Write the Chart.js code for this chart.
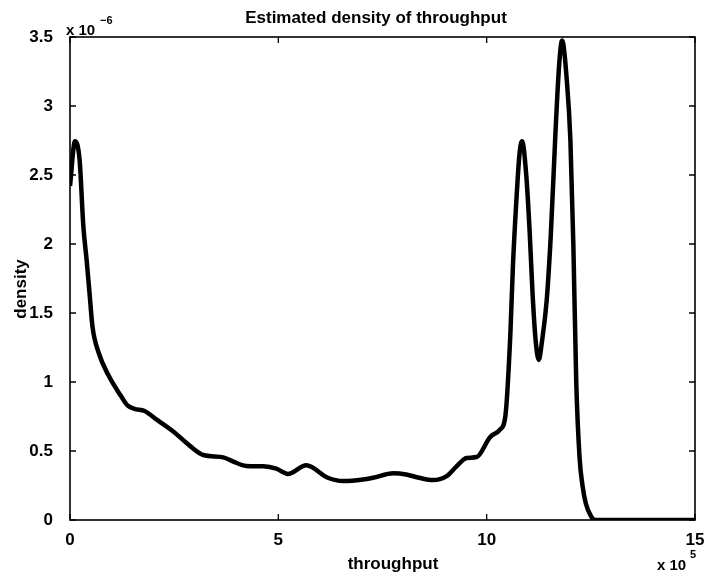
<!DOCTYPE html>
<html>
<head>
<meta charset="utf-8">
<script src="https://cdn.jsdelivr.net/npm/chart.js@4.4.1/dist/chart.umd.min.js"></script>
<style>
  html, body { margin: 0; padding: 0; background: #fff; }
</style>
</head>
<body>
<canvas id="densityChart" width="714" height="579"></canvas>
<script>
// throughput, in units of 10^5
const throughputX = [
  0, 0.12, 0.23, 0.32, 0.40, 0.47, 0.54, 0.69, 0.92, 1.22, 1.38, 1.55, 1.79, 2.09,
  2.50, 2.87, 3.20, 3.68, 3.92, 4.23, 4.64, 4.95, 5.23, 5.67, 6.19, 6.55, 7.03,
  7.27, 7.76, 8.07, 8.38, 8.71, 9.03, 9.27, 9.52, 9.76, 10.08, 10.32, 10.45,
  10.57, 10.63, 10.71, 10.79, 10.85, 10.95, 11.03, 11.10, 11.17, 11.25, 11.33,
  11.44, 11.54, 11.65, 11.74, 11.81, 11.92, 12.01, 12.08, 12.15, 12.23, 12.30,
  12.38, 12.50, 12.60, 13.50, 15
];
// estimated density, in units of 10^-6
const densityY = [
  2.42, 2.745, 2.61, 2.13, 1.88, 1.64, 1.40, 1.21, 1.05, 0.90, 0.83, 0.805, 0.79, 0.725,
  0.636, 0.539, 0.471, 0.454, 0.423, 0.392, 0.389, 0.372, 0.334, 0.397, 0.306, 0.282, 0.293,
  0.306, 0.339, 0.330, 0.306, 0.289, 0.316, 0.387, 0.450, 0.456, 0.600, 0.655, 0.756,
  1.357, 1.84, 2.30, 2.66, 2.745, 2.50, 2.10, 1.65, 1.32, 1.16, 1.30,
  1.59, 2.07, 2.80, 3.30, 3.475, 3.20, 2.75, 2.00, 1.00, 0.45, 0.25,
  0.12, 0.03, 0, 0, 0
];

const xTicks = [0, 5, 10, 15];
const yTicks = [0, 0.5, 1, 1.5, 2, 2.5, 3, 3.5];
const xTickLabels = ['0', '5', '10', '15'];
const yTickLabels = ['0', '0.5', '1', '1.5', '2', '2.5', '3', '3.5'];

const titleText = 'Estimated density of throughput';
const xLabel = 'throughput';
const yLabel = 'density';

const FONT = '"Liberation Sans", Arial, Helvetica, sans-serif';

// matlab style box, inward ticks, exponents and labels
const matlabFrame = {
  id: 'matlabFrame',
  afterDraw(chart) {
    const { ctx, chartArea: a, scales } = chart;
    ctx.save();
    ctx.strokeStyle = '#000';
    ctx.lineWidth = 1.6;
    ctx.strokeRect(a.left, a.top, a.right - a.left, a.bottom - a.top);

    const tl = 6;
    ctx.lineWidth = 1.3;
    ctx.beginPath();
    xTicks.forEach(v => {
      const px = scales.x.getPixelForValue(v);
      ctx.moveTo(px, a.bottom); ctx.lineTo(px, a.bottom - tl);
      ctx.moveTo(px, a.top); ctx.lineTo(px, a.top + tl);
    });
    yTicks.forEach(v => {
      const py = scales.y.getPixelForValue(v);
      ctx.moveTo(a.left, py); ctx.lineTo(a.left + tl, py);
      ctx.moveTo(a.right, py); ctx.lineTo(a.right - tl, py);
    });
    ctx.stroke();

    ctx.fillStyle = '#000';
    ctx.textBaseline = 'alphabetic';

    // title
    ctx.textAlign = 'center';
    ctx.font = 'bold 17px ' + FONT;
    ctx.fillText(titleText, 376, 23);

    // x label
    ctx.fillText(xLabel, 393, 569);

    // y label
    ctx.save();
    ctx.translate(26, 289);
    ctx.rotate(-Math.PI / 2);
    ctx.fillText(yLabel, 0, 0);
    ctx.restore();

    // exponents
    ctx.textAlign = 'left';
    ctx.font = 'bold 15px ' + FONT;
    ctx.fillText('x 10', 66, 35);
    ctx.font = 'bold 11px ' + FONT;
    ctx.fillText('\u22126', 100, 24);

    ctx.font = 'bold 15px ' + FONT;
    ctx.fillText('x 10', 657, 570);
    ctx.font = 'bold 11px ' + FONT;
    ctx.fillText('5', 690, 558);
    ctx.restore();
  }
};

const ctx = document.getElementById('densityChart').getContext('2d');
new Chart(ctx, {
  type: 'line',
  data: {
    datasets: [{
      data: throughputX.map((x, i) => ({ x: x, y: densityY[i] })),
      borderColor: '#000',
      borderWidth: 4.5,
      pointRadius: 0,
      fill: false,
      cubicInterpolationMode: 'monotone'
    }]
  },
  options: {
    responsive: false,
    animation: false,
    devicePixelRatio: 1,
    layout: { padding: { top: 37, right: 19, left: 0, bottom: 0 } },
    plugins: { legend: { display: false }, tooltip: { enabled: false } },
    scales: {
      x: {
        type: 'linear',
        min: 0,
        max: 15,
        afterFit: s => { s.height = 59; },
        afterBuildTicks: s => { s.ticks = xTicks.map(v => ({ value: v })); },
        grid: { display: false },
        border: { display: false },
        ticks: {
          color: '#000',
          font: { family: FONT, size: 17, weight: 'bold' },
          padding: 2,
          maxRotation: 0,
          autoSkip: false,
          callback: (v) => xTickLabels[xTicks.indexOf(v)]
        }
      },
      y: {
        type: 'linear',
        min: 0,
        max: 3.5,
        afterFit: s => { s.width = 70; },
        afterBuildTicks: s => { s.ticks = yTicks.map(v => ({ value: v })); },
        grid: { display: false },
        border: { display: false },
        ticks: {
          color: '#000',
          font: { family: FONT, size: 17, weight: 'bold' },
          padding: 9,
          autoSkip: false,
          callback: (v) => yTickLabels[yTicks.indexOf(v)]
        }
      }
    }
  },
  plugins: [matlabFrame]
});
</script>
</body>
</html>
